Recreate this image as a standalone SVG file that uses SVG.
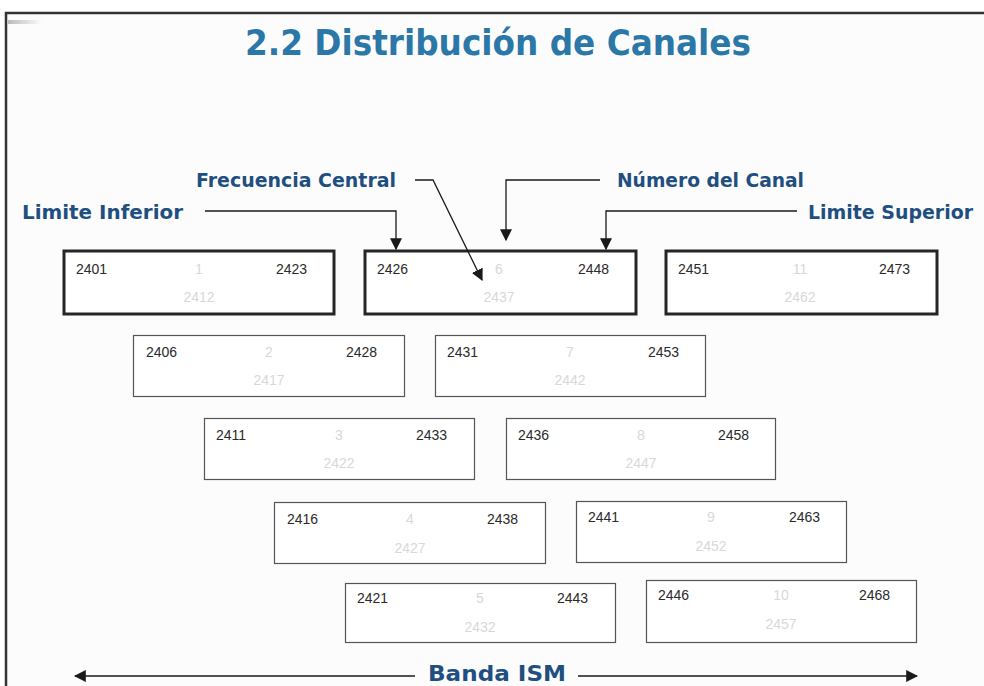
<svg xmlns="http://www.w3.org/2000/svg" width="984" height="686" viewBox="0 0 984 686">
<defs>
<style>
.lbl{font-family:"DejaVu Sans",sans-serif;font-weight:bold;fill:#1f4f80;}
.num{font-family:"Liberation Sans",Arial,sans-serif;font-size:14px;fill:#2a2a2a;}
.ch{font-family:"Liberation Sans",Arial,sans-serif;font-size:14px;fill:#d8d8d8;text-anchor:middle;}
.thick{fill:#ffffff;stroke:#262626;stroke-width:3;}
.thin{fill:#ffffff;stroke:#555555;stroke-width:1.2;}
.conn{fill:none;stroke:#1a1a1a;stroke-width:1.3;}
</style>
<marker id="ah" viewBox="0 0 10 10" refX="9" refY="5" markerWidth="12" markerHeight="12" markerUnits="userSpaceOnUse" orient="auto">
<path d="M0,0 L10,5 L0,10 z" fill="#1a1a1a"/>
</marker>
<linearGradient id="sm" x1="0" y1="0" x2="1" y2="0">
<stop offset="0" stop-color="#bbbbbb"/>
<stop offset="1" stop-color="#fcfcfc"/>
</linearGradient>
</defs>
<rect x="0" y="0" width="984" height="686" fill="#ffffff"/>
<rect x="6" y="13" width="978" height="673" fill="#fcfcfc"/>
<rect x="8" y="20" width="34" height="4" fill="url(#sm)"/>
<path d="M6,686 L6,13 L984,13" fill="none" stroke="#333333" stroke-width="2.5"/>

<text x="498" y="55" text-anchor="middle" font-family="DejaVu Sans, sans-serif" font-size="36" font-weight="bold" fill="#2b78a8" textLength="506" lengthAdjust="spacingAndGlyphs">2.2 Distribución de Canales</text>

<g id="labels">
<text id="lbl-inferior" class="lbl" x="22" y="219" font-size="19" textLength="161" lengthAdjust="spacingAndGlyphs">Limite Inferior</text>
<text id="lbl-central" class="lbl" x="196" y="187" font-size="19" textLength="200" lengthAdjust="spacingAndGlyphs">Frecuencia Central</text>
<text id="lbl-canal" class="lbl" x="617" y="187" font-size="19" textLength="187" lengthAdjust="spacingAndGlyphs">Número del Canal</text>
<text id="lbl-superior" class="lbl" x="808" y="219" font-size="19" textLength="165" lengthAdjust="spacingAndGlyphs">Limite Superior</text>
<text id="lbl-banda" class="lbl" x="428" y="681" font-size="22" textLength="138" lengthAdjust="spacingAndGlyphs">Banda ISM</text>
</g>

<g id="ch1"><rect class="thick" x="64" y="251" width="270" height="63"/><text class="num" x="76" y="274">2401</text><text class="num" x="276" y="274">2423</text><text class="ch" x="199" y="274">1</text><text class="ch" x="199" y="302">2412</text></g>
<g id="ch6"><rect class="thick" x="365" y="251" width="271" height="63"/><text class="num" x="377" y="274">2426</text><text class="num" x="578" y="274">2448</text><text class="ch" x="499" y="274">6</text><text class="ch" x="499" y="302">2437</text></g>
<g id="ch11"><rect class="thick" x="666" y="251" width="271" height="63"/><text class="num" x="678" y="274">2451</text><text class="num" x="879" y="274">2473</text><text class="ch" x="800" y="274">11</text><text class="ch" x="800" y="302">2462</text></g>

<g id="ch2"><rect class="thin" x="133.5" y="335.5" width="271" height="61"/><text class="num" x="146" y="357">2406</text><text class="num" x="346" y="357">2428</text><text class="ch" x="269" y="357">2</text><text class="ch" x="269" y="385">2417</text></g>
<g id="ch7"><rect class="thin" x="435.5" y="335.5" width="270" height="61"/><text class="num" x="447" y="357">2431</text><text class="num" x="648" y="357">2453</text><text class="ch" x="570" y="357">7</text><text class="ch" x="570" y="385">2442</text></g>

<g id="ch3"><rect class="thin" x="204.5" y="418.5" width="270" height="61"/><text class="num" x="216" y="440">2411</text><text class="num" x="416" y="440">2433</text><text class="ch" x="339" y="440">3</text><text class="ch" x="339" y="468">2422</text></g>
<g id="ch8"><rect class="thin" x="506.5" y="418.5" width="269" height="61"/><text class="num" x="518" y="440">2436</text><text class="num" x="718" y="440">2458</text><text class="ch" x="641" y="440">8</text><text class="ch" x="641" y="468">2447</text></g>

<g id="ch4"><rect class="thin" x="274.5" y="502.5" width="271" height="61"/><text class="num" x="287" y="524">2416</text><text class="num" x="487" y="524">2438</text><text class="ch" x="410" y="524">4</text><text class="ch" x="410" y="553">2427</text></g>
<g id="ch9"><rect class="thin" x="576.5" y="501.5" width="270" height="61"/><text class="num" x="588" y="522">2441</text><text class="num" x="789" y="522">2463</text><text class="ch" x="711" y="522">9</text><text class="ch" x="711" y="551">2452</text></g>

<g id="ch5"><rect class="thin" x="345.5" y="583.5" width="270" height="59"/><text class="num" x="357" y="603">2421</text><text class="num" x="557" y="603">2443</text><text class="ch" x="480" y="603">5</text><text class="ch" x="480" y="632">2432</text></g>
<g id="ch10"><rect class="thin" x="646.5" y="580.5" width="270" height="62"/><text class="num" x="658" y="600">2446</text><text class="num" x="859" y="600">2468</text><text class="ch" x="781" y="600">10</text><text class="ch" x="781" y="629">2457</text></g>

<g id="connectors">
<path class="conn" d="M205,211 L396,211 L396,249" marker-end="url(#ah)"/>
<path class="conn" d="M415,180 L433,180 L482,280" marker-end="url(#ah)"/>
<path class="conn" d="M600,180 L506,180 L506,240" marker-end="url(#ah)"/>
<path class="conn" d="M797,211 L606,211 L606,249" marker-end="url(#ah)"/>
<path class="conn" d="M415,676 L75,676" marker-end="url(#ah)"/>
<path class="conn" d="M578,676 L917,676" marker-end="url(#ah)"/>
</g>
</svg>
